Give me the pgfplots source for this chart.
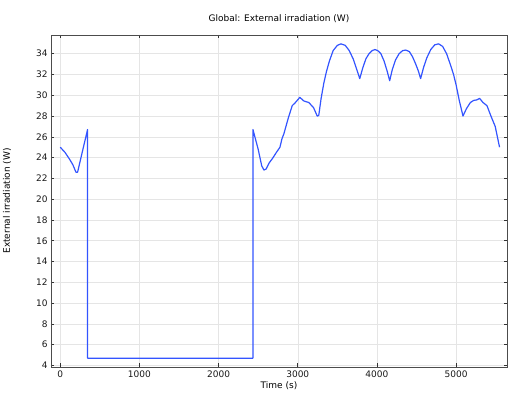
\documentclass[border=0pt]{standalone}
\usepackage{pgfplots}
\pgfplotsset{compat=1.18}
\usepackage{fontspec}
\setmainfont{DejaVu Sans}
\definecolor{curve}{rgb}{0.2,0.33,1}
\begin{document}
\begin{tikzpicture}[x=1bp,y=1bp]
\begin{axis}[
  scale only axis,
  width=456bp, height=332bp,
  at={(0,0)}, anchor=south west,
  xmin=-117, xmax=5643,
  ymin=3.85, ymax=35.8,
  xtick={0,1000,...,5000},
  ytick={4,6,...,34},
  scaled x ticks=false,
  xticklabel style={/pgf/number format/1000 sep={}},
  /pgf/number format/assume math mode=true,
  tick align=inside,
  major tick length=3.5bp,
  tick style={black!80, line width=0.6bp},
  axis line style={black!70, line width=0.8bp},
  grid=major,
  major grid style={gray!20, line width=0.5bp},
  ticklabel style={font=\fontsize{9bp}{11bp}\selectfont, text=black!90},
  label style={font=\fontsize{9bp}{11bp}\selectfont},
  title style={font=\fontsize{9bp}{11bp}\selectfont, at={(axis description cs:0.5,1.030)}, anchor=center},
  title={Global: External irradiation (W)},
  xlabel={Time (s)},
  xlabel style={at={(axis description cs:0.5,-0.0572)}, anchor=center},
  ylabel={External irradiation (W)},
  ylabel style={at={(axis description cs:-0.0965,0.5)}, anchor=center},
]
\addplot[curve, line width=1.2bp, line join=round] coordinates {
(0,25.0) (60,24.5) (113,23.9) (160,23.3) (198,22.6) (219,22.6) (280,24.6) (345,26.7)
(345,4.7) (1000,4.7) (2000,4.7) (2434,4.7)
(2434,26.7) (2500,24.8) (2545,23.2) (2573,22.8) (2600,22.9) (2640,23.5) (2679,23.9)
(2730,24.5) (2775,25.0) (2800,25.8) (2825,26.3) (2880,27.8) (2930,29.0) (2970,29.3)
(3026,29.8) (3077,29.45) (3140,29.3) (3200,28.8) (3246,28.0) (3265,28.05)
(3295,29.7) (3330,31.2) (3363,32.3) (3400,33.3) (3447,34.3) (3500,34.8) (3545,34.95)
(3600,34.8) (3650,34.3) (3700,33.5) (3740,32.6) (3783,31.6)
(3820,32.6) (3860,33.5) (3900,34.0) (3940,34.3) (3975,34.4) (4010,34.3) (4050,34.0)
(4090,33.3) (4130,32.3) (4161,31.4)
(4195,32.5) (4235,33.4) (4280,34.0) (4325,34.3) (4365,34.35) (4410,34.2) (4450,33.7)
(4490,33.0) (4525,32.3) (4552,31.6)
(4590,32.7) (4630,33.6) (4680,34.4) (4730,34.85) (4779,34.95) (4830,34.7) (4880,34.0)
(4930,32.9) (4968,32.0) (5000,31.0) (5040,29.5) (5087,28.0)
(5130,28.7) (5180,29.3) (5221,29.5) (5260,29.55) (5297,29.7) (5340,29.3) (5390,29.0)
(5440,28.0) (5494,27.0) (5549,25.0)
};
\end{axis}
\pgfresetboundingbox
\path[use as bounding box] (-51bp,-30bp) rectangle (465bp,367bp);
\end{tikzpicture}
\end{document}
